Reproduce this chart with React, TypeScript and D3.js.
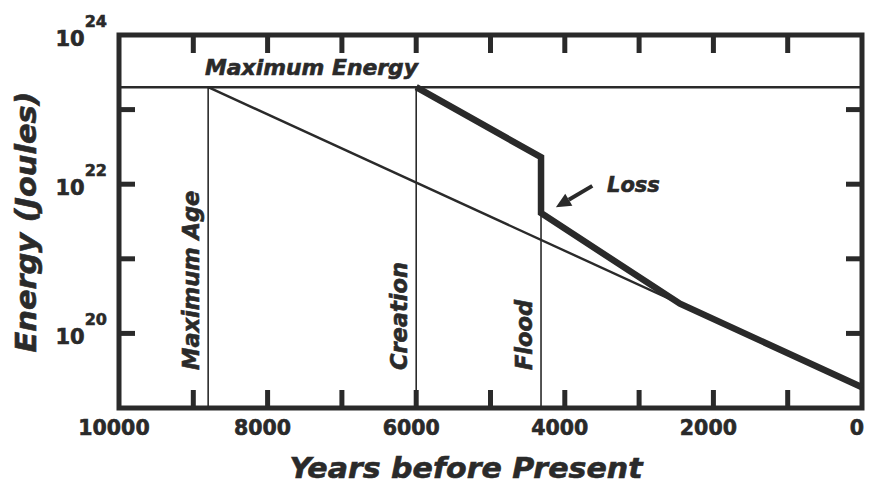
import React from 'react'
import * as d3 from 'd3'

// energy budget, years before present vs joules (log)
const maxEnergy = 2e23
const decayYears = [8800, 0]
const decayEnergy = [2e23, 1.9e19]
const lossYears = [6000, 4320, 4320, 2450, 0]
const lossEnergy = [2e23, 2.3e22, 4.1e21, 2.5e20, 1.9e19]
const eventLabels = ['Maximum Age', 'Creation', 'Flood']
const eventYears = [8800, 6000, 4320]
const eventTop = [2e23, 2e23, 4.1e21]
const xTickLabels = [10000, 8000, 6000, 4000, 2000, 0]
const xMinorTicks = [9000, 8000, 7000, 6000, 5000, 4000, 3000, 2000, 1000]
const yTickLabels = [24, 22, 20]
const yMinorTicks = [1e23, 1e22, 1e21, 1e20]
const arrowFrom = [3630, 9.5e21]
const arrowTo = [4120, 4.9e21]
const lossLabelAt = [3432, 7.9e21]

const W = 873
const H = 485
const [top, right, bottom, left] = [35, 11, 77, 119]
const font = "'DejaVu Sans', sans-serif"
const ink = '#2a2a2a'

export default function App() {
    const x = d3.scaleLinear().domain([10000, 0]).range([left, W - right])
    const y = d3.scaleLog().domain([1e19, 1e24]).range([H - bottom, top])
    const y0 = H - bottom

    const line = d3
        .line<[number, number]>()
        .x(d => x(d[0]))
        .y(d => y(d[1]))

    const decay = decayYears.map((yr, i) => [yr, decayEnergy[i]] as [number, number])
    const loss = lossYears.map((yr, i) => [yr, lossEnergy[i]] as [number, number])

    const ax = x(arrowFrom[0])
    const ay = y(arrowFrom[1])
    const bx = x(arrowTo[0])
    const by = y(arrowTo[1])
    const ang = Math.atan2(by - ay, bx - ax)
    const headLen = 15
    const headW = 7
    const hx = bx - headLen * Math.cos(ang)
    const hy = by - headLen * Math.sin(ang)
    const head = [
        [bx, by],
        [hx - headW * Math.sin(ang), hy + headW * Math.cos(ang)],
        [hx + headW * Math.sin(ang), hy - headW * Math.cos(ang)],
    ]

    return (
        <div style={{ position: 'absolute', left: 0, top: 0 }}>
            <svg width={W} height={H} style={{ display: 'block', background: '#fff' }}>
                <g fill='none' stroke={ink}>
                    {/* frame */}
                    <rect
                        x={left}
                        y={top}
                        width={W - right - left}
                        height={y0 - top}
                        strokeWidth={5}
                    />
                    {xMinorTicks.map(t => (
                        <g key={'xt' + t} strokeWidth={5}>
                            <line x1={x(t)} x2={x(t)} y1={y0} y2={y0 - 18} />
                            <line x1={x(t)} x2={x(t)} y1={top} y2={top + 18} />
                        </g>
                    ))}
                    {yMinorTicks.map(t => (
                        <g key={'yt' + t} strokeWidth={5}>
                            <line x1={left} x2={left + 16} y1={y(t)} y2={y(t)} />
                            <line x1={W - right} x2={W - right - 16} y1={y(t)} y2={y(t)} />
                        </g>
                    ))}

                    {/* maximum energy */}
                    <line
                        x1={left}
                        x2={W - right}
                        y1={y(maxEnergy)}
                        y2={y(maxEnergy)}
                        strokeWidth={2.5}
                    />

                    {eventYears.map((yr, i) => (
                        <line
                            key={'ev' + i}
                            x1={x(yr)}
                            x2={x(yr)}
                            y1={y(eventTop[i])}
                            y2={y0}
                            strokeWidth={1.6}
                        />
                    ))}

                    <path d={line(decay) || ''} strokeWidth={2.4} />
                    <path
                        d={line(loss) || ''}
                        strokeWidth={6.5}
                        strokeLinejoin='miter'
                    />

                    <line
                        x1={ax}
                        y1={ay}
                        x2={hx}
                        y2={hy}
                        strokeWidth={4}
                    />
                    <polygon
                        points={head.map(p => p.join(',')).join(' ')}
                        fill={ink}
                        stroke='none'
                    />
                </g>

                <g
                    fill={ink}
                    stroke={ink}
                    strokeWidth={0.6}
                    fontFamily={font}
                    fontWeight='bold'
                >
                    {xTickLabels.map(t => (
                        <text
                            key={'xl' + t}
                            x={x(t) - 5}
                            y={y0 + 27}
                            fontSize={20.5}
                            textAnchor='middle'
                        >
                            {t}
                        </text>
                    ))}
                    {yTickLabels.map(p => (
                        <text key={'yl' + p} x={107} y={y(Math.pow(10, p))} textAnchor='end'>
                            <tspan fontSize={21} dy={11}>
                                10
                            </tspan>
                            <tspan fontSize={16} dy={-19}>
                                {p}
                            </tspan>
                        </text>
                    ))}

                    <g fontStyle='italic'>
                        <text x={205} y={75} fontSize={21} textLength={213} lengthAdjust='spacingAndGlyphs'>
                            Maximum Energy
                        </text>
                        {eventLabels.map((l, i) => (
                            <text
                                key={'el' + i}
                                transform={`translate(${x(eventYears[i]) - 9}, ${y0 - 38}) rotate(-90)`}
                                fontSize={22.5}
                            >
                                {l}
                            </text>
                        ))}
                        <text
                            x={x(lossLabelAt[0])}
                            y={y(lossLabelAt[1])}
                            fontSize={21}
                        >
                            Loss
                        </text>
                        <text
                            x={466}
                            y={478}
                            fontSize={28}
                            textAnchor='middle'
                            textLength={353}
                            lengthAdjust='spacingAndGlyphs'
                        >
                            Years before Present
                        </text>
                        <text
                            transform={`translate(36, 222) rotate(-90)`}
                            fontSize={28}
                            textAnchor='middle'
                            textLength={261}
                            lengthAdjust='spacingAndGlyphs'
                        >
                            Energy (Joules)
                        </text>
                    </g>
                </g>
            </svg>
        </div>
    )
}
